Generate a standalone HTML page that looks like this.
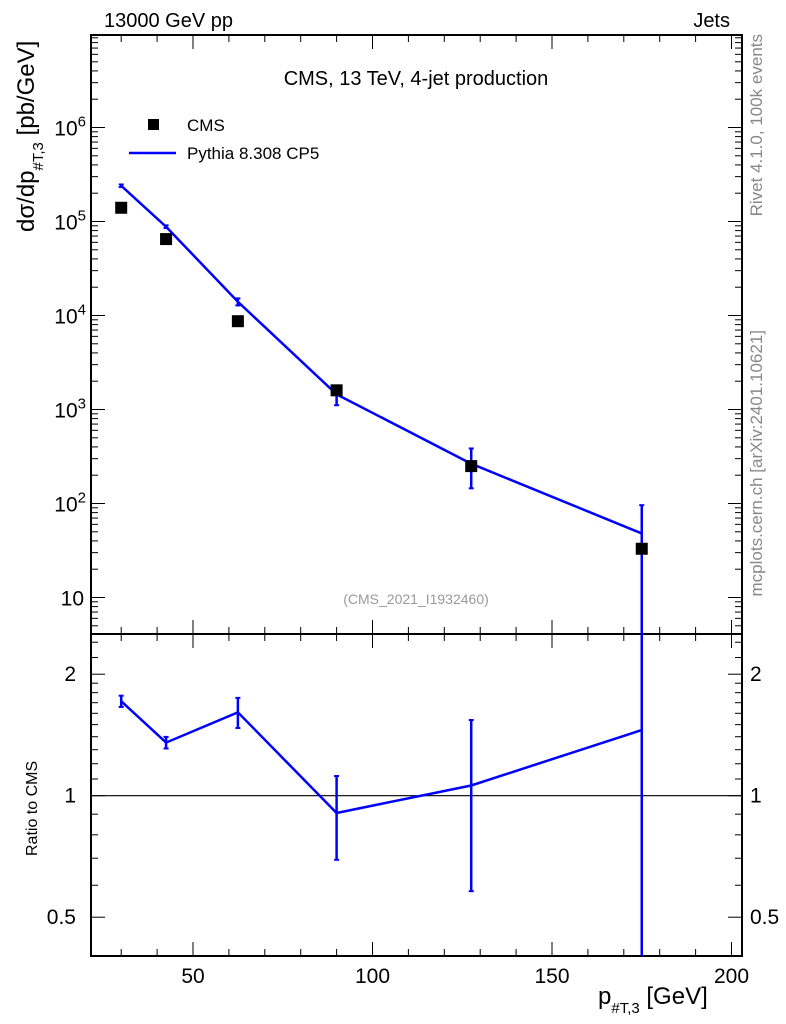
<!DOCTYPE html>
<html><head><meta charset="utf-8"><style>
body{margin:0;background:#fff;}
svg{display:block;font-family:"Liberation Sans",Arial,sans-serif;}
</style></head><body>
<svg id="chart" width="786" height="1024" viewBox="0 0 786 1024" xmlns="http://www.w3.org/2000/svg">
<rect width="786" height="1024" fill="#fff"/>
<g id="g"></g>
</svg>
<script>
const categories=[30,42.5,62.5,90,127.5,175];
const cmsValues=[1.4e5,6.5e4,8.7e3,1.6e3,250,33];
const mcValues=[2.4e5,8.8e4,1.4e4,1.45e3,265,48];
const mcErrors=[7.7e3,2.9e3,1.2e3,340,120,48];
const xTicks=[50,100,150,200];
const yTicksMain=[1,2,3,4,5,6];
const yTicksRatio=[0.5,1,2];

const NS="http://www.w3.org/2000/svg";
const g=document.getElementById('g');
const L=91,R=742,T=35,MB=634,RB=956;
function X(v){return 193+(v-50)*3.59;}
function Y(v){return 597.5-94*(Math.log10(v)-1);}
function YR(r){return 795.7-121.5*Math.log2(r);}
function el(tag,attrs,txt){const e=document.createElementNS(NS,tag);for(const k in attrs)e.setAttribute(k,attrs[k]);if(txt!==undefined)e.textContent=txt;g.appendChild(e);return e;}
function line(x1,y1,x2,y2,st,w){return el('line',{x1,y1,x2,y2,stroke:st||'#000','stroke-width':w||1});}

let f=el('rect',{x:L,y:T,width:R-L,height:MB-T,fill:'none',stroke:'#000','stroke-width':2});


f=el('rect',{x:L,y:MB,width:R-L,height:RB-MB,fill:'none',stroke:'#000','stroke-width':2});



for(let v=30;v<=200;v+=10){
  const major=v%50===0, xx=X(v), len=major?14:7;
  for(const [yb,yt] of [[MB,T],[RB,MB]]){
    line(xx,yb,xx,yb-len);line(xx,yt,xx,yt+len);
  }
}
xTicks.forEach(v=>{const t=el('text',{x:X(v),y:983,'font-size':21,'text-anchor':'middle'},String(v));

});

for(let d=0;d<=6;d++){for(let m=1;m<10;m++){const v=m*Math.pow(10,d);const yy=Y(v);if(yy<T||yy>MB)continue;
 const len=m===1?14:7;line(L,yy,L+len,yy);line(R,yy,R-len,yy);}}
yTicksMain.forEach(p=>{const yy=Y(Math.pow(10,p));
 const t=el('text',{x:p===1?84:86,y:yy+8,'font-size':21,'text-anchor':'end'});
 
 
 if(p===1){t.textContent='10';}else{t.textContent='10';const s=document.createElementNS(NS,'tspan');s.setAttribute('dy','-9');s.setAttribute('font-size','15');s.textContent=p;t.appendChild(s);}
});

const rMinor=[0.4,0.6,0.7,0.8,0.9,1.1,1.2,1.3,1.4,1.5,1.6,1.7,1.8,1.9,2.2,2.4];
rMinor.forEach(r=>{const yy=YR(r);if(yy<MB||yy>RB)return;line(L,yy,L+7,yy);line(R,yy,R-7,yy);});
yTicksRatio.forEach(r=>{const yy=YR(r);line(L,yy,L+14,yy);line(R,yy,R-14,yy);
 let t=el('text',{x:76,y:yy+7,'font-size':21,'text-anchor':'end'},String(r));
 
 
 t=el('text',{x:750,y:yy+7,'font-size':21},String(r));
 
 });
let ref=line(L,YR(1),R,YR(1),'#000',1.2);



const pts=categories.map((c,i)=>X(c)+','+Y(mcValues[i])).join(' ');
let pl=el('polyline',{points:pts,fill:'none',stroke:'#0000ff','stroke-width':2.5});


categories.forEach((c,i)=>{const xx=X(c);const lo=mcValues[i]-mcErrors[i];
 const y1=Y(mcValues[i]+mcErrors[i]);const y2=lo>0?Math.min(Y(lo),MB):MB;
 const e=line(xx,y1,xx,y2,'#0000ff',2.5);
 
 
 line(xx-2.5,y1,xx+2.5,y1,'#0000ff',2);if(lo>0)line(xx-2.5,y2,xx+2.5,y2,'#0000ff',2);
});
categories.forEach((c,i)=>{const r=el('rect',{x:X(c)-6,y:Y(cmsValues[i])-6,width:12,height:12,fill:'#000'});
 
 });

const rpts=categories.map((c,i)=>X(c)+','+YR(mcValues[i]/cmsValues[i])).join(' ');
pl=el('polyline',{points:rpts,fill:'none',stroke:'#0000ff','stroke-width':2.5});


categories.forEach((c,i)=>{const xx=X(c);const r=mcValues[i]/cmsValues[i];const er=mcErrors[i]/cmsValues[i];
 const y1=Math.max(YR(r+er),MB);const lo=r-er;const y2=lo>0?Math.min(YR(lo),RB):RB;
 const e=line(xx,y1,xx,y2,'#0000ff',2.5);
 
 
 if(y1>MB)line(xx-2.5,y1,xx+2.5,y1,'#0000ff',2);if(y2<RB)line(xx-2.5,y2,xx+2.5,y2,'#0000ff',2);
});

function txt(name,attrs,s){const t=el('text',attrs,s);return t;}
txt('header-left',{x:104,y:27,'font-size':20},'13000 GeV pp');
txt('header-right',{x:730,y:27,'font-size':20,'text-anchor':'end'},'Jets');
txt('plot-title',{x:416,y:85,'font-size':20,'text-anchor':'middle'},'CMS, 13 TeV, 4-jet production');
let lg=el('rect',{x:148,y:119,width:11,height:11,fill:'#000'});


txt('legend-cms',{x:187,y:131,'font-size':17},'CMS');
lg=line(129,153,176,153,'#0000ff',2.5);


txt('legend-pythia',{x:187,y:159,'font-size':17},'Pythia 8.308 CP5');
txt('analysis-id',{x:416,y:604,'font-size':14,fill:'#999','text-anchor':'middle'},'(CMS_2021_I1932460)');
let yl=txt('y-axis-title',{x:0,y:0,'font-size':24,transform:'translate(34,232) rotate(-90)'},'dσ/dp');
let s=document.createElementNS(NS,'tspan');s.setAttribute('dy','9');s.setAttribute('font-size','15');s.textContent='#T,3';yl.appendChild(s);
s=document.createElementNS(NS,'tspan');s.setAttribute('dy','-9');s.textContent=' [pb/GeV]';yl.appendChild(s);
txt('ratio-axis-title',{x:0,y:0,'font-size':16,transform:'translate(37,856) rotate(-90)'},'Ratio to CMS');
let xl=txt('x-axis-title',{x:598,y:1004,'font-size':24},'p');
s=document.createElementNS(NS,'tspan');s.setAttribute('dy','9');s.setAttribute('font-size','15');s.textContent='#T,3';xl.appendChild(s);
s=document.createElementNS(NS,'tspan');s.setAttribute('dy','-9');s.textContent=' [GeV]';xl.appendChild(s);
txt('rivet-label',{x:0,y:0,'font-size':17,fill:'#888','text-anchor':'end',transform:'translate(762,34) rotate(-90)'},'Rivet 4.1.0,  100k events');
txt('mcplots-label',{x:0,y:0,'font-size':17,fill:'#888','text-anchor':'end',transform:'translate(762,330) rotate(-90)'},'mcplots.cern.ch [arXiv:2401.10621]');
</script>
</body></html>
